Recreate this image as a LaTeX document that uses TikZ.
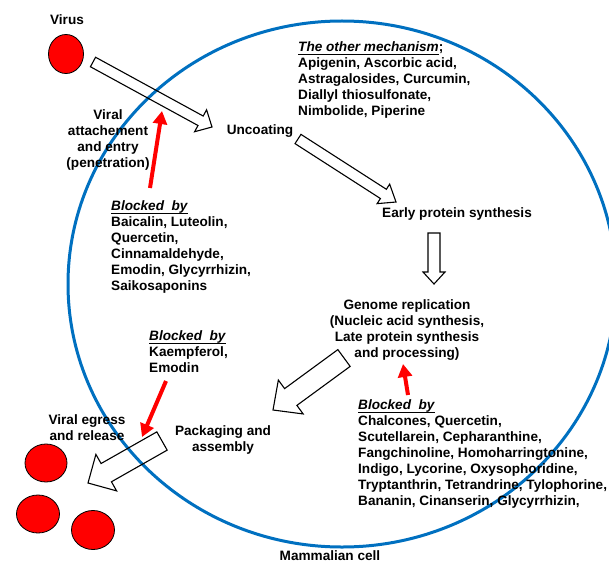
\documentclass[tikz,border=0pt]{standalone}
\usepackage{fontspec}
\setmainfont{Liberation Sans}
\usepackage{tikz}
\usetikzlibrary{shapes.geometric, arrows.meta, calc}
\definecolor{cellblue}{HTML}{0070C0}
\definecolor{virusred}{HTML}{FF0000}
\tikzset{
  cell/.style={draw=cellblue, line width=3pt},
  virion/.style={
    ellipse, draw=black, line width=0.8pt,
    fill=virusred, inner sep=0pt,
    minimum width=42, minimum height=38,
  },
  stage/.style={
    anchor=north, align=center, inner sep=0pt,
    font=\fontsize{13.6}{16}\selectfont\bfseries,
  },
  agents/.style={
    anchor=north west, align=left, inner sep=0pt,
    font=\fontsize{13.6}{16}\selectfont\bfseries,
  },
  hollow/.style={draw=black, line width=1.1pt, line join=miter},
  blocker/.style={-{Triangle[length=13pt, width=14pt]}, line width=4pt, color=virusred},
}
% hollow block arrow: tail, tip, shaft half width, head half width, head length
\newcommand{\hollowarrow}[5]{%
  \coordinate (hb) at ($(#2)!#5pt!(#1)$);
  \draw[hollow] ($(#1)!#3pt!90:(#2)$) -- ($(hb)!#3pt!-90:(#1)$)
    -- ($(hb)!#4pt!-90:(#1)$) -- (#2) -- ($(hb)!#4pt!90:(#1)$)
    -- ($(hb)!#3pt!90:(#1)$) -- ($(#1)!#3pt!-90:(#2)$) -- cycle;
}
% underline sitting just under the descenders
\newcommand{\uline}[1]{\setbox0\hbox{#1}\rlap{\rule[-3.2pt]{\wd0}{0.9pt}}\box0}
\newcommand{\blocked}{\uline{\textit{Blocked\ \ by}}}

\begin{document}
\begin{tikzpicture}[x=1pt, y=-1pt]
  \useasboundingbox (0,0) rectangle (609,564);

  % cell membrane
  \draw[cell] (342,284) ellipse [x radius=274, y radius=263];

  % virions
  \node[virion, minimum width=35, minimum height=39] (v0) at (66,54) {};
  \node[virion] (v1) at (46,463) {};
  \node[virion, minimum width=43] (v2) at (38,514) {};
  \node[virion, minimum width=43, minimum height=39] (v3) at (93,530) {};

  % stages
  \node[stage] (virus) at (67,14.5) {Virus};
  \node[stage] (entry) at (108,109.5) {Viral\\attachement\\and entry\\(penetration)};
  \node[stage] (uncoat) at (260,124.5) {Uncoating};
  \node[stage] (early) at (457,207.5) {Early protein synthesis};
  \node[stage] (genome) at (407,299.5) {Genome replication\\(Nucleic acid synthesis,\\Late protein synthesis\\and processing)};
  \node[stage] (pack) at (223,425.5) {Packaging and\\assembly};
  \node[stage] (egress) at (87,414.5) {Viral egress\\and release};
  \node[stage] (cellname) at (330,550.5) {Mammalian cell};

  % inhibitors
  \node[agents] (other) at (298,41.5) {\uline{\textit{The other mechanism}};\\Apigenin, Ascorbic acid,\\Astragalosides, Curcumin,\\Diallyl thiosulfonate,\\Nimbolide, Piperine};
  \node[agents] (blk1) at (111,200.5) {\blocked\\Baicalin, Luteolin,\\Quercetin,\\Cinnamaldehyde,\\Emodin, Glycyrrhizin,\\Saikosaponins};
  \node[agents] (blk2) at (149,330.5) {\blocked\\Kaempferol,\\Emodin};
  \node[agents] (blk3) at (358,399.5) {\blocked\\Chalcones, Quercetin,\\Scutellarein, Cepharanthine,\\Fangchinoline, Homoharringtonine,\\Indigo, Lycorine, Oxysophoridine,\\Tryptanthrin, Tetrandrine, Tylophorine,\\Bananin, Cinanserin, Glycyrrhizin,};

  % arrow ends
  \coordinate (inTail) at (93,62);
  \coordinate (inTip) at (212,127);
  \coordinate (uncTail) at (298,139);
  \coordinate (uncTip) at (396,202);
  \coordinate (eps) at (434,233);
  \coordinate (epsTip) at (434,284);
  \coordinate (repTail) at (344,358);
  \coordinate (repTip) at (273,410);
  \coordinate (outTail) at (162,441);
  \coordinate (outTip) at (88,483);
  \coordinate (blk1Tip) at (162,111);
  \coordinate (blk2Tip) at (142,437);
  \coordinate (blk3Tip) at (403,364);
  \coordinate (blk1Tail) at (150,188);
  \coordinate (blk2Tail) at (166,381);
  \coordinate (blk3Tail) at (408,395);

  \hollowarrow{inTail}{inTip}{5.4}{12.5}{13}
  \hollowarrow{uncTail}{uncTip}{5.5}{11.6}{15}
  \hollowarrow{eps}{epsTip}{6}{11}{12}
  \hollowarrow{repTail}{repTip}{10.4}{21}{22}
  \hollowarrow{outTail}{outTip}{10.5}{21}{21}

  \draw[blocker] (blk1Tail) -- (blk1Tip);
  \draw[blocker] (blk2Tail) -- (blk2Tip);
  \draw[blocker] (blk3Tail) -- (blk3Tip);

\end{tikzpicture}
\end{document}
